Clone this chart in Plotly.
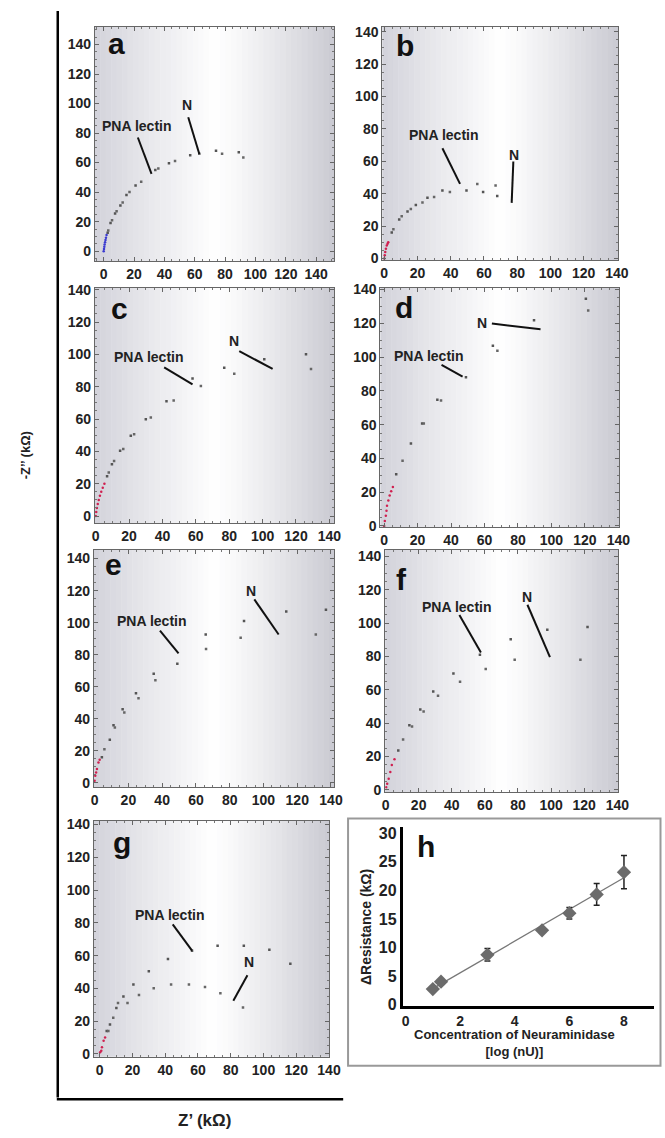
import numpy as np
import plotly.graph_objects as go

W, H = 665, 1138

# ---------------- data (Z' , -Z'' in kOhm) ----------------
a_hf_x = [0.0, 0.2, 0.4, 0.6, 0.9, 1.2, 1.5, 1.9]
a_hf_y = [0.0, 1.5, 3.0, 4.5, 6.0, 7.5, 9.0, 11.0]
a_pna_x = [2.6, 4.5, 7.5, 11.0, 15.0, 21.0, 34.0, 43.0, 57.0, 74.0, 89.0]
a_pna_y = [12.5, 19.0, 25.5, 31.0, 38.0, 44.5, 55.0, 59.5, 65.0, 68.0, 67.0]
a_n_x = [3.0, 5.5, 8.5, 12.5, 17.0, 24.7, 36.0, 47.0, 63.0, 78.0, 92.0]
a_n_y = [14.0, 21.0, 27.0, 33.0, 40.0, 47.0, 56.0, 61.0, 66.0, 66.0, 63.5]

b_hf_x = [0.0, 0.3, 0.6, 1.0, 1.5, 2.0, 2.4]
b_hf_y = [0.0, 2.0, 4.0, 6.0, 8.0, 9.0, 10.0]
b_pna_x = [4.5, 9.0, 14.0, 19.0, 26.0, 35.0, 49.5, 59.5, 68.0]
b_pna_y = [16.0, 24.0, 29.0, 33.0, 37.5, 42.0, 42.0, 41.0, 38.5]
b_n_x = [5.5, 10.5, 16.0, 23.0, 30.0, 39.5, 56.0, 67.0]
b_n_y = [18.0, 26.0, 30.5, 34.5, 38.0, 41.0, 46.0, 45.0]

c_hf_x = [0.0, 0.3, 0.7, 1.2, 1.8, 2.5, 3.3, 4.2, 5.2]
c_hf_y = [0.0, 2.5, 5.0, 7.5, 10.0, 12.5, 15.0, 17.5, 20.0]
c_pna_x = [6.8, 9.7, 14.6, 21.0, 30.0, 42.4, 58.0, 77.0, 101.0, 126.0]
c_pna_y = [24.6, 32.0, 40.4, 49.6, 59.8, 71.0, 85.0, 91.7, 97.0, 100.0]
c_n_x = [7.8, 11.0, 16.5, 23.0, 33.0, 46.7, 63.0, 83.0, 129.0]
c_n_y = [27.0, 34.0, 41.5, 50.6, 61.0, 71.5, 80.5, 88.0, 91.0]

d_hf_x = [0.0, 0.4, 1.0, 1.4, 1.7, 2.5, 3.3, 4.2, 5.2]
d_hf_y = [0.0, 3.0, 6.0, 9.0, 12.0, 15.0, 18.0, 20.5, 23.0]
d_pna_x = [7.2, 16.0, 22.7, 31.8, 48.9, 65.0, 89.6, 120.6]
d_pna_y = [30.6, 48.8, 60.6, 74.7, 88.0, 106.7, 121.8, 134.5]
d_n_x = [11.0, 23.7, 34.0, 67.7, 122.0]
d_n_y = [38.6, 60.6, 74.3, 103.7, 127.6]

e_hf_x = [0.0, 0.4, 0.9, 1.4, 2.3, 3.0]
e_hf_y = [1.4, 4.5, 6.5, 8.7, 12.8, 14.5]
e_pna_x = [4.3, 9.0, 11.2, 16.6, 24.5, 35.0, 49.0, 65.8, 88.5, 113.5, 137.0]
e_pna_y = [16.0, 27.0, 36.0, 46.0, 56.0, 68.2, 74.3, 92.6, 101.0, 107.0, 108.0]
e_n_x = [5.8, 12.0, 17.6, 26.0, 36.0, 66.0, 86.5, 131.0]
e_n_y = [21.0, 34.6, 44.0, 52.8, 64.0, 83.5, 90.6, 92.6]

f_hf_x = [0.4, 1.0, 1.9, 2.9, 3.8, 5.4]
f_hf_y = [1.6, 3.7, 6.7, 10.8, 14.9, 18.4]
f_pna_x = [7.7, 14.4, 21.0, 28.8, 41.0, 57.0, 75.6, 97.7, 122.0]
f_pna_y = [23.7, 38.8, 48.2, 59.0, 69.8, 81.0, 90.4, 96.0, 97.6]
f_n_x = [10.6, 16.0, 23.0, 31.7, 45.0, 60.5, 78.0, 117.7]
f_n_y = [30.2, 38.0, 47.0, 56.5, 64.9, 72.5, 78.0, 78.0]

g_hf_x = [0.3, 1.0, 1.4, 2.4, 3.3]
g_hf_y = [1.0, 2.0, 4.0, 8.0, 10.0]
g_pna_x = [4.3, 6.3, 10.2, 14.5, 20.6, 30.0, 41.7, 56.4, 72.0, 88.0, 103.6, 116.4]
g_pna_y = [14.0, 18.0, 28.0, 35.0, 42.4, 50.4, 58.0, 63.0, 66.0, 66.0, 63.6, 55.0]
g_n_x = [5.3, 8.3, 11.2, 17.0, 24.0, 33.0, 43.6, 54.5, 64.3, 73.7, 87.5]
g_n_y = [14.0, 22.0, 31.0, 31.0, 36.0, 40.0, 42.4, 42.4, 40.8, 37.0, 28.4]

# panel h: delta resistance vs log concentration
h_x = [1, 1.3, 3, 5, 6, 7, 8]
h_y = [2.7, 4.0, 8.7, 13.0, 16.0, 19.3, 23.2]
h_err = [0.3, 0.3, 1.1, 0.5, 1.0, 1.9, 2.9]

nyq_ticks = [0, 20, 40, 60, 80, 100, 120, 140]
h_xticks = [0, 2, 4, 6, 8]
h_yticks = [0, 5, 10, 15, 20, 25, 30]

# annotation anchors (data coords): label pos, line start, line end
ann = {
    "a": [("PNA lectin", (22, 85), (22.5, 77), (31.5, 52.4)), ("N", (54.7, 98.8), (55.7, 90.7), (63, 65.8))],
    "b": [("PNA lectin", (36, 76), (35, 68), (45.6, 46)), ("N", (78, 64), (77.7, 59.8), (76.7, 34.3))],
    "c": [("PNA lectin", (32, 98.4), (41, 92), (58, 81.5)), ("N", (82.7, 108.5), (86, 102), (106, 91))],
    "d": [("PNA lectin", (26.6, 100.8), (34.3, 95.3), (46.9, 88.4)), ("N", (58.6, 120.4), (64.4, 119.8), (93.5, 116.5))],
    "e": [("PNA lectin", (33.7, 101), (38.7, 95), (49.7, 80.8)), ("N", (92.8, 120), (94.6, 114.5), (109, 92.6))],
    "f": [("PNA lectin", (43.4, 109.8), (44.6, 104.9), (57.6, 82.4)), ("N", (85.3, 115.9), (85.7, 111), (99.3, 79.6))],
    "g": [("PNA lectin", (43, 85), (44.6, 79), (56.4, 63)), ("N", (91.2, 56), (90.2, 48), (81.6, 32.4))],
}

# ---------------- layout geometry (pixels) ----------------
panels = [
    ("a", (93, 338), (21, 258), (-5.8, 152), (-6.7, 152), "#3a3ad0", (a_hf_x, a_hf_y), (a_pna_x, a_pna_y), (a_n_x, a_n_y), (115, 38)),
    ("b", (387, 628), (21, 257), (-1.2, 140.6), (-1.0, 143), "#d02050", (b_hf_x, b_hf_y), (b_pna_x, b_pna_y), (b_n_x, b_n_y), (410, 40)),
    ("c", (93, 338), (285, 523), (-0.5, 143), (-4.3, 141.2), "#d02050", (c_hf_x, c_hf_y), (c_pna_x, c_pna_y), (c_n_x, c_n_y), (118, 306)),
    ("d", (385, 629), (285, 527), (-2.3, 140.3), (-0.6, 141), "#d02050", (d_hf_x, d_hf_y), (d_pna_x, d_pna_y), (d_n_x, d_n_y), (409, 305)),
    ("e", (92, 338), (550, 790), (-0.4, 142), (-2.5, 145.5), "#d02050", (e_hf_x, e_hf_y), (e_pna_x, e_pna_y), (e_n_x, e_n_y), (112, 565)),
    ("f", (390, 628), (550, 795), (-0.2, 140.3), (-1.2, 144), "#d02050", (f_hf_x, f_hf_y), (f_pna_x, f_pna_y), (f_n_x, f_n_y), (407, 580)),
    ("g", (92, 333), (824, 1063), (-3.5, 140.3), (-1.8, 142.4), "#d02050", (g_hf_x, g_hf_y), (g_pna_x, g_pna_y), (g_n_x, g_n_y), (121, 846)),
]

FONT = "Liberation Sans"


def xdom(p):
    return [p[0] / W, p[1] / W]


def ydom(p):
    return [1 - p[1] / H, 1 - p[0] / H]


def ptxt(xpx, ypx, text, size, angle=0, color="#222"):
    return dict(x=xpx / W, y=1 - ypx / H, xref="paper", yref="paper", text=text, showarrow=False,
                xanchor="center", yanchor="middle", textangle=angle,
                font=dict(family=FONT, size=size, color=color, weight="bold"))


fig = go.Figure()
layout = dict(
    width=W, height=H, margin=dict(l=0, r=0, t=0, b=0),
    paper_bgcolor="white", plot_bgcolor="rgba(0,0,0,0)",
    showlegend=False, font=dict(family=FONT, color="#222"),
)
shapes = []
annotations = []


def grad_color(t):
    # grey at edges, white in the middle
    left = np.array([210, 210, 218])
    right = np.array([202, 202, 210])
    mid = np.array([255, 255, 255])
    c0 = 0.5
    if t < c0:
        s = (t / c0) ** 0.9
        c = left + (mid - left) * s
    else:
        s = ((t - c0) / (1 - c0)) ** 1.2
        c = mid + (right - mid) * s
    c = c.astype(int)
    return f"rgb({c[0]},{c[1]},{c[2]})"


for i, (lab, xp, yp, xr, yr, hfcol, hf, pna, nn, lpos) in enumerate(panels):
    k = "" if i == 0 else str(i + 1)
    xa, ya = "x" + k, "y" + k
    axis_common = dict(
        showgrid=False, zeroline=False, showline=True, linecolor="#666", linewidth=1,
        mirror="ticks", ticks="inside", ticklen=4, tickcolor="#666",
        tickfont=dict(family=FONT, size=14, color="#222", weight="bold"),
        tickvals=nyq_ticks,
        minor=dict(ticks="inside", ticklen=2, dtick=5, tickcolor="#777"),
    )
    layout["xaxis" + k] = dict(domain=xdom(xp), range=list(xr), anchor=ya, **axis_common)
    layout["yaxis" + k] = dict(domain=ydom(yp), range=list(yr), anchor=xa, **axis_common)

    # gradient background
    n = 44
    for j in range(n):
        shapes.append(dict(type="rect", xref=xa + " domain", yref=ya + " domain",
                           x0=j / n, x1=(j + 1) / n + 0.002, y0=0, y1=1,
                           fillcolor=grad_color((j + 0.5) / n), line=dict(width=0), layer="below"))

    fig.add_trace(go.Scatter(x=pna[0], y=pna[1], mode="markers", xaxis=xa, yaxis=ya,
                             marker=dict(size=2.5, color="#555", symbol="square"), name="PNA lectin"))
    fig.add_trace(go.Scatter(x=nn[0], y=nn[1], mode="markers", xaxis=xa, yaxis=ya,
                             marker=dict(size=2.5, color="#666", symbol="square"), name="N"))
    fig.add_trace(go.Scatter(x=hf[0], y=hf[1], mode="markers", xaxis=xa, yaxis=ya,
                             marker=dict(size=2.5, color=hfcol), name="high freq"))

    for text, tp, ls, le in ann[lab]:
        annotations.append(dict(x=tp[0], y=tp[1], xref=xa, yref=ya, text=text, showarrow=False,
                                xanchor="center", yanchor="middle",
                                font=dict(family=FONT, size=14, color="#222", weight="bold")))
        shapes.append(dict(type="line", xref=xa, yref=ya, x0=ls[0], y0=ls[1], x1=le[0], y1=le[1],
                           line=dict(color="#111", width=2)))

    annotations.append(ptxt(lpos[0], lpos[1], lab, 30, color="#111"))

# ---------------- panel h ----------------
k = "8"
layout["xaxis" + k] = dict(domain=xdom((408, 665)), range=[-0.1, 9.1], anchor="y" + k,
                           showgrid=False, zeroline=False, showline=True, linecolor="#000", linewidth=3,
                           ticks="", tickvals=h_xticks,
                           tickfont=dict(family=FONT, size=14, color="#222", weight="bold"))
layout["yaxis" + k] = dict(domain=ydom((830, 1012)), range=[-0.35, 31.2], anchor="x" + k,
                           showgrid=False, zeroline=False, showline=True, linecolor="#000", linewidth=3,
                           ticks="", tickvals=h_yticks,
                           tickfont=dict(family=FONT, size=16, color="#222", weight="bold"))
slope, icpt = np.polyfit(h_x, h_y, 1)
fit_x = [min(h_x), max(h_x)]
fig.add_trace(go.Scatter(x=fit_x, y=[slope * v + icpt for v in fit_x], mode="lines",
                         xaxis="x8", yaxis="y8", line=dict(color="#777", width=1.3)))
fig.add_trace(go.Scatter(x=h_x, y=h_y, mode="markers", xaxis="x8", yaxis="y8",
                         marker=dict(symbol="diamond", size=11, color="#6b6b6b"),
                         error_y=dict(type="data", array=h_err, color="#222", thickness=1.5, width=3)))
annotations.append(ptxt(432, 850, "h", 30, color="#111"))
annotations.append(ptxt(371, 932, "ΔResistance (kΩ)", 14, angle=-90))
annotations.append(ptxt(522, 1049, "Concentration of Neuraminidase<br>[log (nU)]", 13))
# frame around panel h
shapes.append(dict(type="rect", xref="paper", yref="paper", x0=352 / W, x1=1.01, y0=1 - 1072 / H, y1=1 - 822 / H,
                   line=dict(color="#999", width=2), fillcolor="rgba(0,0,0,0)"))

# ---------------- global axes titles ----------------
shapes.append(dict(type="line", xref="paper", yref="paper", x0=55 / W, x1=55 / W, y0=1 - 5 / H, y1=1 - 1104 / H,
                   line=dict(color="#000", width=2.5)))
shapes.append(dict(type="line", xref="paper", yref="paper", x0=54 / W, x1=347 / W, y0=1 - 1106 / H, y1=1 - 1106 / H,
                   line=dict(color="#000", width=2.5)))
annotations.append(ptxt(22, 455, "-Z’’ (kΩ)", 13, angle=-90))
annotations.append(ptxt(205, 1127, "Z’ (kΩ)", 17))

layout["shapes"] = shapes
layout["annotations"] = annotations
fig.update_layout(**layout)
fig.write_html("out.html", config={"displayModeBar": False},
               post_script="document.body.style.margin='0';document.body.style.overflow='hidden';")
